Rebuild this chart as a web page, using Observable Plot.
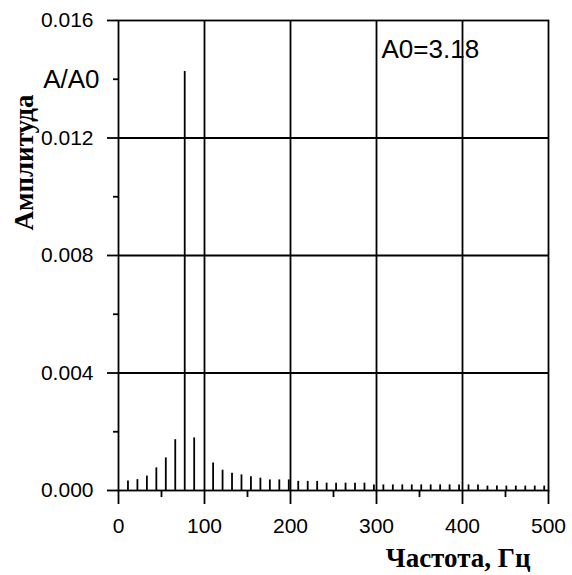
<!DOCTYPE html>
<html>
<head>
<meta charset="utf-8">
<script src="https://cdn.jsdelivr.net/npm/d3@7"></script>
<script src="https://cdn.jsdelivr.net/npm/@observablehq/plot@0.6"></script>
<style>
  html, body { margin: 0; padding: 0; background: white; }
</style>
</head>
<body>
<div id="chart"></div>
<script>
// Spectrum data (frequency in Hz, relative amplitude A/A0)
const freqs = [11, 22, 33, 44, 55, 66, 77, 88, 110, 121, 132, 143, 154, 165, 176, 187, 198,
  209, 220, 231, 242, 253, 264, 275, 286, 297, 308, 319, 330, 341, 352, 363, 374, 385, 396,
  407, 418, 429, 440, 451, 462, 473, 484, 495];
const amps = [0.00032, 0.00037, 0.00049, 0.00077, 0.00111, 0.00173, 0.01426, 0.00179, 0.00094,
  0.00069, 0.00059, 0.00053, 0.00047, 0.00042, 0.00036, 0.00036, 0.00036,
  0.00031, 0.00031, 0.00031, 0.00025, 0.00025, 0.00025, 0.00025, 0.00025, 0.00019,
  0.00019, 0.00019, 0.00019, 0.00019, 0.00019, 0.00019, 0.00019, 0.00019, 0.00019,
  0.00019, 0.00019, 0.00015, 0.00015, 0.00015, 0.00015, 0.00015, 0.00015, 0.00015];

const xMajor = [0, 100, 200, 300, 400, 500];
const xMinor = [50, 150, 250, 350, 450];
const yMajor = [0, 0.004, 0.008, 0.012, 0.016];
const yMinor = [0.002, 0.006, 0.010];
const yLabelTick = [0.014];
const gridX = [100, 200, 300, 400];
const gridY = [0.004, 0.008, 0.012];
const yTickLabelText = "A/A0";
const noteText = "A0=3.18";
const xTitle = "Частота, Гц";
const yTitle = "Амплитуда";

const data = freqs.map((f, i) => ({f, a: amps[i]}));

const serif = "'Liberation Serif', 'Times New Roman', serif";
const sans = "'Liberation Sans', Arial, sans-serif";
const sw = 1.8;

const chart = Plot.plot({
  width: 572,
  height: 575,
  marginTop: 20,
  marginLeft: 118,
  marginRight: 24,
  marginBottom: 85,
  x: {domain: [0, 500]},
  y: {domain: [0, 0.016]},
  style: {fontFamily: sans, fontSize: "21px", color: "black", background: "white"},
  marks: [
    Plot.ruleX(gridX, {stroke: "black", strokeWidth: sw}),
    Plot.ruleY(gridY, {stroke: "black", strokeWidth: sw}),
    Plot.frame({stroke: "black", strokeWidth: sw}),
    Plot.ruleX(data, {x: "f", y1: 0, y2: "a", stroke: "black", strokeWidth: sw}),
    Plot.axisX(xMajor, {tickSize: 14, tickPadding: 14, strokeWidth: sw, tickFormat: d => String(d), label: null, fontSize: 21}),
    Plot.axisX(xMinor, {tickSize: 7, strokeWidth: sw, tickFormat: () => "", label: null}),
    Plot.axisY(yMajor, {tickSize: 11, tickPadding: 14, strokeWidth: sw, tickFormat: d3.format(".3f"), label: null, fontSize: 21}),
    Plot.axisY(yMinor, {tickSize: 5, strokeWidth: sw, tickFormat: () => "", label: null}),
    Plot.axisY(yLabelTick, {tickSize: 5, tickPadding: 14, strokeWidth: sw, tickFormat: () => yTickLabelText, label: null, fontSize: 26}),
    Plot.text([noteText], {x: 300, y: 0.015, dx: 5, text: d => d, textAnchor: "start", fontSize: 26, fontFamily: sans}),
    Plot.text([xTitle], {frameAnchor: "bottom-right", dx: -18, dy: 68, text: d => d, textAnchor: "end", lineAnchor: "middle",
      fontFamily: serif, fontWeight: "bold", fontSize: 27}),
    Plot.text([yTitle], {frameAnchor: "top-left", dx: -94, dy: 142, rotate: -90, text: d => d,
      textAnchor: "middle", lineAnchor: "middle",
      fontFamily: serif, fontWeight: "bold", fontSize: 27})
  ]
});
document.getElementById("chart").appendChild(chart);
</script>
</body>
</html>
